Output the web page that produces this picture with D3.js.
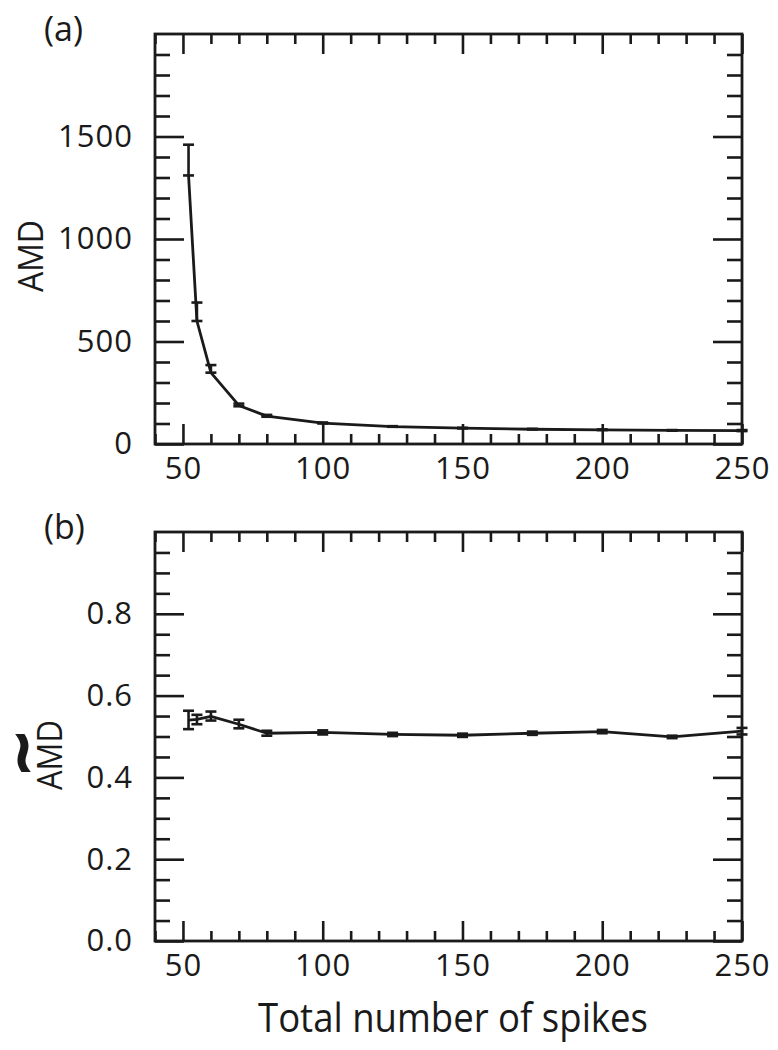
<!DOCTYPE html>
<html>
<head>
<meta charset="utf-8">
<script src="https://cdn.jsdelivr.net/npm/d3@7"></script>
<style>
  body { margin: 0; background: #fff; }
  svg { display: block; font-family: "Open Sans", sans-serif; }
  .tick text { font-family: "Open Sans", sans-serif; font-size: 31px; letter-spacing: 1px; fill: #1a1a1a; }
  .tick line { stroke: #1a1a1a; stroke-width: 2.6; }
</style>
</head>
<body>
<svg width="778" height="1050"></svg>
<script>
// spike counts on the x axis (shared by both panels)
var spikes = [52, 55, 60, 70, 80, 100, 125, 150, 175, 200, 225, 250];

// panel (a): AMD, with error bar ends
var amd   = [1310, 600, 348, 188, 136, 102, 85, 77, 72, 69, 66, 65];
var amdLo = [1310, 600, 348, 184, 133, 100, 84, 76, 71, 68, 65, 63];
var amdHi = [1460, 690, 385, 197, 142, 105, 87, 79, 74, 71, 68, 68];

// panel (b): normalised AMD
var norm   = [0.540, 0.542, 0.549, 0.530, 0.508, 0.510, 0.505, 0.503, 0.508, 0.512, 0.499, 0.513];
var normLo = [0.518, 0.530, 0.539, 0.520, 0.502, 0.505, 0.501, 0.499, 0.504, 0.508, 0.496, 0.505];
var normHi = [0.563, 0.553, 0.561, 0.541, 0.514, 0.515, 0.509, 0.507, 0.512, 0.516, 0.502, 0.521];

// tick labels
var xTicks = [50, 100, 150, 200, 250];
var amdTicks = [0, 500, 1000, 1500];
var normTicks = [0, 0.2, 0.4, 0.6, 0.8];

var ink = "#1a1a1a";
var left = 155, right = 742;

var svg = d3.select("svg");

var x = d3.scaleLinear().domain([40, 250]).range([left, right]);

function panel(cfg) {
    var y = d3.scaleLinear().domain(cfg.domain).range([cfg.bottom, cfg.top]);
    var g = svg.append("g");
    var xMinor = d3.range(40, 251, 10).filter(function(v) { return v % 50 !== 0; });
    var yMinor = d3.range(cfg.domain[0], cfg.domain[1] + 1e-9, cfg.minor)
        .filter(function(v) { return Math.abs(v / cfg.major - Math.round(v / cfg.major)) > 1e-6; });

    // bottom axis: major with labels, minor without
    g.append("g").attr("transform", "translate(0," + cfg.bottom + ")")
        .call(d3.axisBottom(x).tickValues(xTicks).tickSize(-20).tickPadding(13).tickFormat(d3.format("d")));
    g.append("g").attr("transform", "translate(0," + cfg.bottom + ")")
        .call(d3.axisBottom(x).tickValues(xMinor).tickSize(-10).tickFormat(""));
    // top axis mirrored
    g.append("g").attr("transform", "translate(0," + cfg.top + ")")
        .call(d3.axisTop(x).tickValues(xTicks).tickSize(-20).tickFormat(""));
    g.append("g").attr("transform", "translate(0," + cfg.top + ")")
        .call(d3.axisTop(x).tickValues(xMinor).tickSize(-10).tickFormat(""));
    // left axis
    g.append("g").attr("transform", "translate(" + left + ",0)")
        .call(d3.axisLeft(y).tickValues(cfg.ticks).tickSize(-29).tickPadding(22).tickFormat(cfg.format));
    g.append("g").attr("transform", "translate(" + left + ",0)")
        .call(d3.axisLeft(y).tickValues(yMinor).tickSize(-15).tickFormat(""));
    // right axis mirrored
    g.append("g").attr("transform", "translate(" + right + ",0)")
        .call(d3.axisRight(y).tickValues(cfg.ticks).tickSize(-29).tickFormat(""));
    g.append("g").attr("transform", "translate(" + right + ",0)")
        .call(d3.axisRight(y).tickValues(yMinor).tickSize(-15).tickFormat(""));

    g.selectAll(".domain").remove();

    g.append("rect")
        .attr("x", left).attr("y", cfg.top)
        .attr("width", right - left).attr("height", cfg.bottom - cfg.top)
        .attr("fill", "none").attr("stroke", ink).attr("stroke-width", 2.8);

    var data = spikes.map(function(s, i) {
        return {x: s, y: cfg.mean[i], lo: cfg.lo[i], hi: cfg.hi[i]};
    });

    var line = d3.line()
        .x(function(d) { return x(d.x); })
        .y(function(d) { return y(d.y); });

    g.append("path").datum(data)
        .attr("d", line)
        .attr("fill", "none").attr("stroke", ink)
        .attr("stroke-width", 2.8).attr("stroke-linejoin", "round");

    var bars = g.append("g").attr("stroke", ink).attr("stroke-width", 2.6)
        .selectAll("g").data(data).join("g");
    bars.append("line")
        .attr("x1", function(d) { return x(d.x); }).attr("x2", function(d) { return x(d.x); })
        .attr("y1", function(d) { return y(d.lo); }).attr("y2", function(d) { return y(d.hi); });
    bars.append("line")
        .attr("x1", function(d) { return x(d.x) - 5.5; }).attr("x2", function(d) { return x(d.x) + 5.5; })
        .attr("y1", function(d) { return y(d.hi); }).attr("y2", function(d) { return y(d.hi); });
    bars.append("line")
        .attr("x1", function(d) { return x(d.x) - 5.5; }).attr("x2", function(d) { return x(d.x) + 5.5; })
        .attr("y1", function(d) { return y(d.lo); }).attr("y2", function(d) { return y(d.lo); });

    svg.append("text")
        .attr("x", 44).attr("y", cfg.top + 7)
        .attr("font-size", 34).attr("fill", ink)
        .text(cfg.tag);

    return y;
}

panel({
    top: 34, bottom: 444, domain: [0, 2000], major: 500, minor: 100,
    ticks: amdTicks, format: d3.format("d"),
    mean: amd, lo: amdLo, hi: amdHi, tag: "(a)"
});

panel({
    top: 532, bottom: 941, domain: [0, 1], major: 0.2, minor: 0.05,
    ticks: normTicks, format: d3.format(".1f"),
    mean: norm, lo: normLo, hi: normHi, tag: "(b)"
});

// y axis titles
svg.append("text")
    .attr("transform", "translate(43,256) rotate(-90)")
    .attr("text-anchor", "middle").attr("font-size", 34).attr("fill", ink)
    .attr("textLength", 72).attr("lengthAdjust", "spacingAndGlyphs")
    .text("AMD");

svg.append("text")
    .attr("transform", "translate(62,755) rotate(-90)")
    .attr("text-anchor", "middle").attr("font-size", 34).attr("fill", ink)
    .attr("textLength", 70).attr("lengthAdjust", "spacingAndGlyphs")
    .text("AMD");

// tilde over the rotated AMD
svg.append("text")
    .attr("transform", "translate(21,753) rotate(-90)")
    .attr("text-anchor", "middle").attr("dominant-baseline", "central")
    .attr("font-family", "DejaVu Sans").attr("font-size", 44).attr("font-weight", "bold")
    .attr("fill", ink).attr("stroke", ink).attr("stroke-width", 3)
    .attr("textLength", 46).attr("lengthAdjust", "spacingAndGlyphs")
    .text("~");

// x axis title
svg.append("text")
    .attr("x", 453).attr("y", 1032)
    .attr("text-anchor", "middle").attr("font-size", 40).attr("fill", ink)
    .attr("textLength", 390).attr("lengthAdjust", "spacingAndGlyphs")
    .text("Total number of spikes");
</script>
</body>
</html>
